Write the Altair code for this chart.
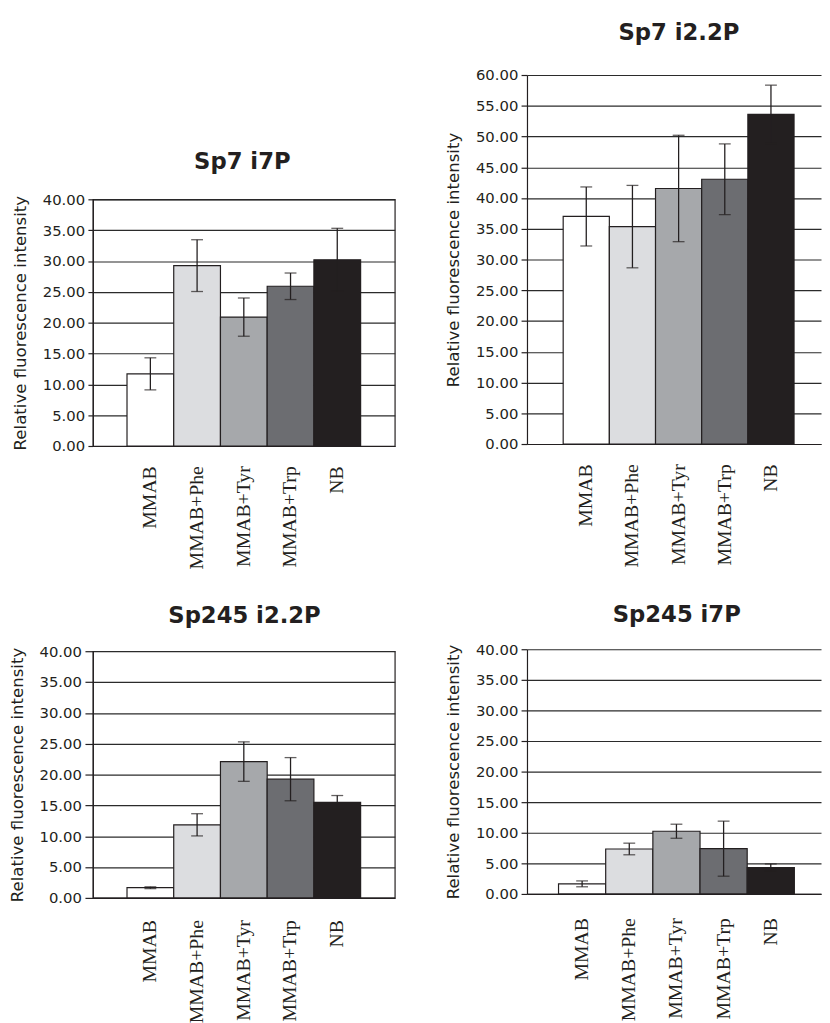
import altair as alt
import pandas as pd

categories = ["MMAB", "MMAB+Phe", "MMAB+Tyr", "MMAB+Trp", "NB"]
bar_colors = ["#ffffff", "#dcdde0", "#a6a8ab", "#6c6d71", "#231f20"]

sp7_i7p_mean = [11.7, 29.25, 20.9, 25.9, 30.2]
sp7_i7p_err = [2.6, 4.2, 3.1, 2.15, 5.1]

sp7_i22p_mean = [37.0, 35.35, 41.55, 43.05, 53.6]
sp7_i22p_err = [4.8, 6.7, 8.65, 5.75, 4.75]

sp245_i22p_mean = [1.65, 11.85, 22.1, 19.25, 15.5]
sp245_i22p_err = [0.15, 1.8, 3.2, 3.5, 1.1]

sp245_i7p_mean = [1.65, 7.35, 10.25, 7.4, 4.3]
sp245_i7p_err = [0.48, 0.95, 1.15, 4.5, 0.6]

INK = "#231f20"
ONE = pd.DataFrame({"a": [0]})


def panel(title, means, errs, ymax, width, height, pad_outer, band_align,
          title_x, title_y, tick_size, label_pad, xlabel_pad, framed, box):
    df = pd.DataFrame({"cat": categories, "mean": means, "err": errs})
    df["lo"] = df["mean"] - df["err"]
    df["hi"] = df["mean"] + df["err"]

    xscale = alt.Scale(domain=categories, paddingInner=0, paddingOuter=pad_outer,
                       align=band_align)
    xaxis = alt.Axis(title=None, labelAngle=270, labelAlign="right",
                     labelBaseline="middle", labelFont="Liberation Serif",
                     labelFontSize=20, labelColor=INK, ticks=False,
                     tickSize=0, labelPadding=xlabel_pad, domainColor=INK,
                     domainWidth=1.2, grid=False, labelOverlap=False)
    yscale = alt.Scale(domain=[0, ymax], nice=False, zero=True)
    yaxis = alt.Axis(title="Relative fluorescence intensity",
                     values=list(range(0, ymax + 1, 5)), format=".2f",
                     labelOverlap=False,
                     labelFont="DejaVu Sans", labelFontSize=15,
                     labelColor=INK, tickColor=INK, tickSize=tick_size,
                     tickWidth=1.2, labelPadding=label_pad, domainColor=INK,
                     domainWidth=1.2, grid=True, gridColor="#2b2b2b",
                     gridWidth=1.2, titleFont="DejaVu Sans",
                     titleFontSize=16.8, titleFontWeight="normal",
                     titleColor=INK, titlePadding=13)

    x = alt.X("cat:N", sort=categories, scale=xscale, axis=xaxis)

    bars = alt.Chart(df).mark_bar(stroke=INK, strokeWidth=1.2).encode(
        x=x,
        y=alt.Y("mean:Q", scale=yscale, axis=yaxis),
        fill=alt.Fill("cat:N", scale=alt.Scale(domain=categories, range=bar_colors),
                      legend=None),
    )
    rules = alt.Chart(df).mark_rule(color=INK, strokeWidth=1.3).encode(
        x=x, y=alt.Y("lo:Q", scale=yscale, axis=yaxis), y2="hi:Q")
    cap_hi = alt.Chart(df).mark_tick(color=INK, size=12, thickness=1.3).encode(
        x=x, y=alt.Y("hi:Q", scale=yscale, axis=yaxis))
    cap_lo = alt.Chart(df).mark_tick(color=INK, size=12, thickness=1.3).encode(
        x=x, y=alt.Y("lo:Q", scale=yscale, axis=yaxis))

    head = alt.Chart(ONE).mark_text(
        text=title, font="DejaVu Sans", fontWeight="bold", fontSize=23,
        color=INK, align="center", baseline="alphabetic").encode(
        x=alt.value(title_x), y=alt.value(title_y))

    # invisible layout anchor fixing the panel's bounding box
    x1, x2, y1, y2 = box
    anchor = alt.Chart(ONE).mark_rule(strokeOpacity=0, opacity=0).encode(
        x=alt.value(x1), x2=alt.value(x2), y=alt.value(y1), y2=alt.value(y2))

    view = (alt.ViewBackground(stroke=INK, strokeWidth=1.2) if framed
            else alt.ViewBackground(stroke="transparent"))

    return alt.layer(bars, rules, cap_hi, cap_lo, head, anchor).properties(
        width=width, height=height, view=view)


tl = panel("Sp7 i7P", sp7_i7p_mean, sp7_i7p_err, 40, 306, 250, 0.731, 0.5,
           151.5, -30.6, 5, 3.3, 20, True, (-92, 307, -60, 380))
bl = panel("Sp245 i2.2P", sp245_i22p_mean, sp245_i22p_err, 40, 306, 250, 0.731, 0.5,
           153.7, -28.7, 8, 3.6, 22, True, (-92, 307, -66, 250))
tr = panel("Sp7 i2.2P", sp7_i22p_mean, sp7_i22p_err, 60, 298, 374, 0.684, 0.573,
           154, -35, 6, 3.3, 20, False, (-95, 298, -80, 504))
br = panel("Sp245 i7P", sp245_i7p_mean, sp245_i7p_err, 40, 298, 248, 0.617, 0.542,
           151.8, -27.3, 6, 3.3, 24, False, (-95, 298, -66, 248))

spacer = alt.Chart(ONE).mark_rule(strokeOpacity=0, opacity=0).encode(
    x=alt.value(0), x2=alt.value(10), y=alt.value(0), y2=alt.value(54)
).properties(width=10, height=54, view=alt.ViewBackground(stroke="transparent"))

left_col = alt.vconcat(spacer, tl, bl, spacing=10)
right_col = alt.vconcat(tr, br, spacing=10)

chart = alt.hconcat(left_col, right_col, spacing=36).properties(
    padding={"left": -7, "top": -20, "right": 0, "bottom": 0}
).configure(background="white")

chart.save("out.html", embed_options={"renderer": "svg", "actions": False})
